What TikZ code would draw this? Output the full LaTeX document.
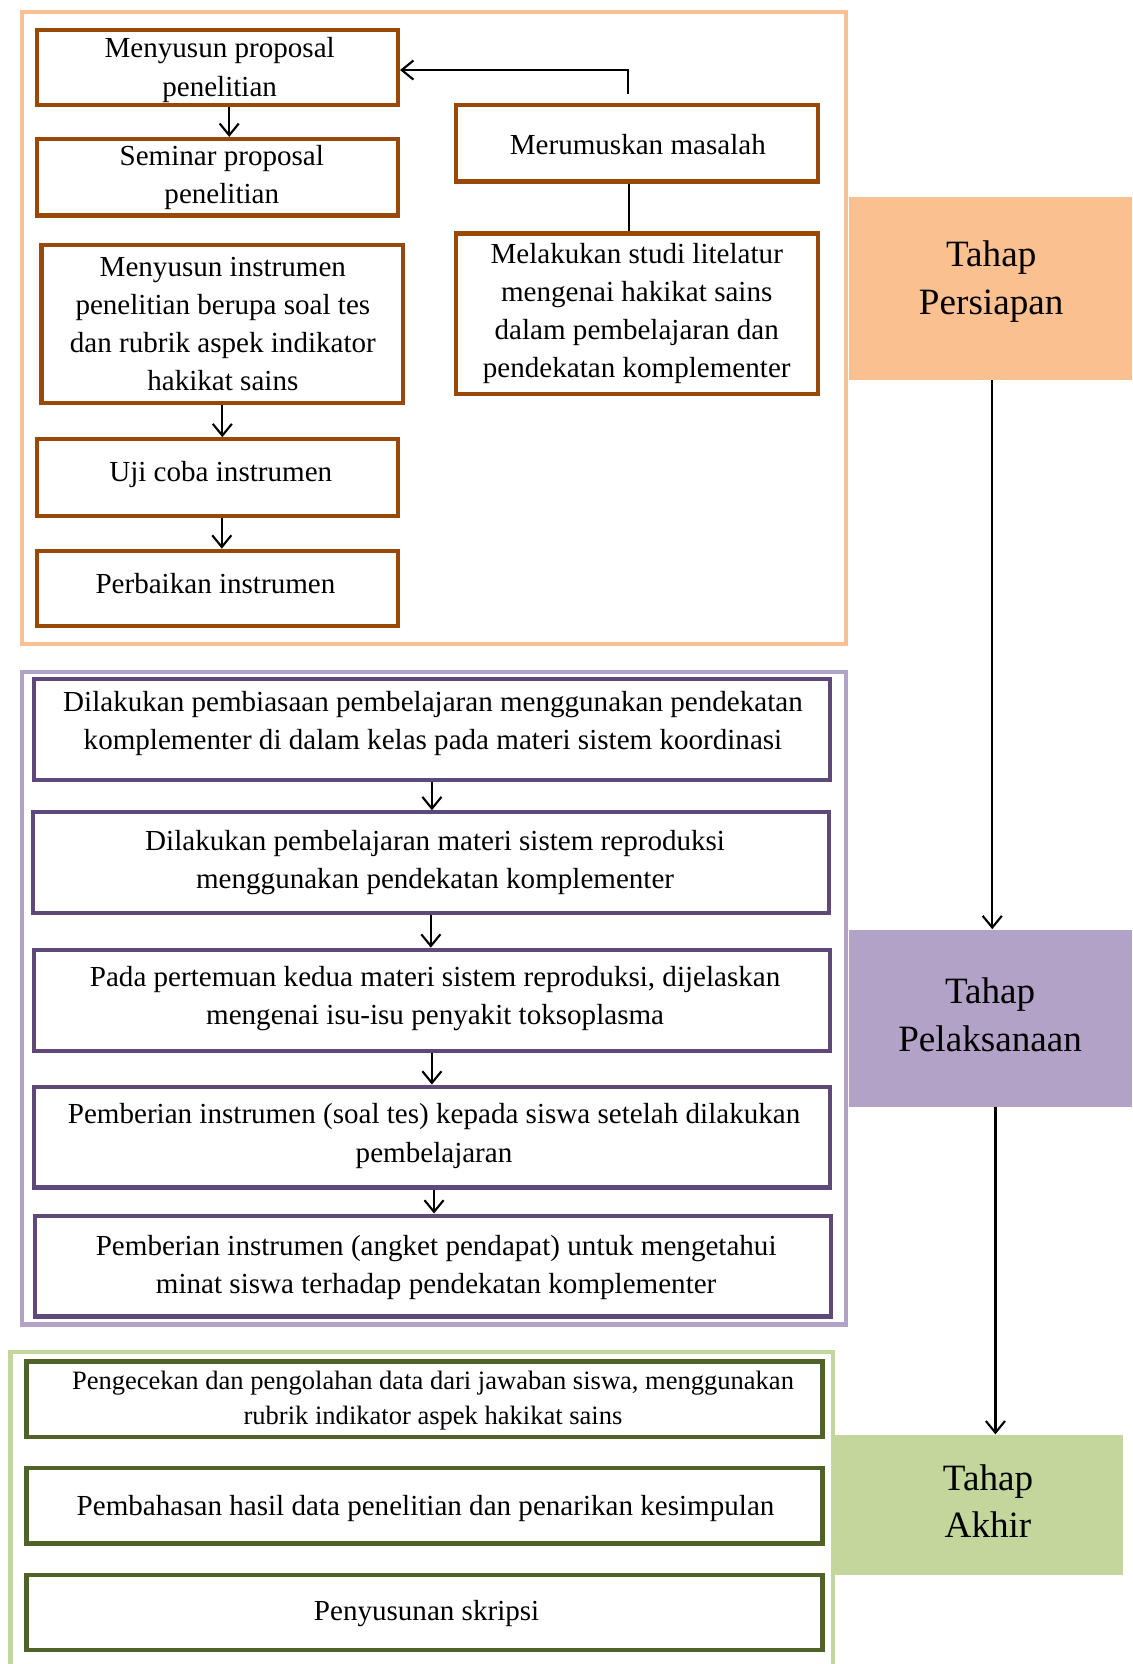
\documentclass[tikz,border=0pt]{standalone}
\usepackage{fontspec}
\setmainfont{Liberation Serif}
\usetikzlibrary{arrows.meta}
\definecolor{orfr}{HTML}{FAC090}
\definecolor{orbx}{HTML}{984807}
\definecolor{pufr}{HTML}{B3A2C7}
\definecolor{pubx}{HTML}{5F497A}
\definecolor{grfr}{HTML}{C3D69B}
\definecolor{grbx}{HTML}{4F6228}
\begin{document}
\begin{tikzpicture}[x=0.5pt,y=-0.5pt,
  frame/.style={line width=2pt},
  bx/.style={draw, line width=2pt, rectangle, inner sep=0pt, fill=white},
  obx/.style={bx, draw=orbx},
  pbx/.style={bx, draw=pubx, minimum width=375pt, minimum height=47.5pt},
  gbx/.style={bx, draw=grbx, minimum width=375pt, minimum height=35.5pt},
  txt/.style={align=center, inner sep=0pt, yshift=-1.5pt, font=\fontsize{13.7}{18}\selectfont},
  stxt/.style={align=center, inner sep=0pt, yshift=-1.5pt, font=\fontsize{12.5}{16.5}\selectfont},
  stage/.style={rectangle, inner sep=0pt},
  stagetxt/.style={align=center, inner sep=0pt, yshift=-1.5pt, font=\fontsize{17.5}{22.5}\selectfont},
  arr/.style={-{Straight Barb[length=5.5pt,width=9pt]}, line width=1pt},
  ln/.style={line width=1pt}]
\path[use as bounding box] (0,0) rectangle (1067,1568);
\clip (0,0) rectangle (1067,1568);

% frames
\draw[frame, orfr] (21,11) rectangle (797,607);
\draw[frame, pufr] (21,633) rectangle (797,1248);
\draw[frame, grfr] (10,1274) rectangle (785,1600);

% stage boxes
\node[stage, fill=orfr, minimum width=133.5pt, minimum height=86pt] (tp) at (933.5,272) {};
\node[stagetxt] (tpt) at (934,262.5) {Tahap\\Persiapan};
\node[stage, fill=pufr, minimum width=133.5pt, minimum height=83.5pt] (tl) at (933.5,959.5) {};
\node[stagetxt] (tlt) at (933,953) {Tahap\\Pelaksanaan};
\node[stage, fill=grfr, minimum width=135.5pt, minimum height=66pt] (ta) at (922.5,1418) {};
\node[stagetxt] (tat) at (931,1411.5) {Tahap\\Akhir};

% preparation boxes
\node[obx, minimum width=170pt, minimum height=35.5pt] (b1) at (205,63.5) {};
\node[txt] (b1t) at (207,63) {Menyusun proposal\\penelitian};
\node[obx, minimum width=170pt, minimum height=36pt] (b2) at (205,167) {};
\node[txt] (b2t) at (209,164) {Seminar proposal\\penelitian};
\node[obx, minimum width=170.5pt, minimum height=74.5pt] (b3) at (209.5,305.5) {};
\node[txt] (b3t) at (210,302.5) {Menyusun instrumen\\penelitian berupa soal tes\\dan rubrik aspek indikator\\hakikat sains};
\node[obx, minimum width=170pt, minimum height=36pt] (b4) at (205,450) {};
\node[txt] (b4t) at (208,444) {Uji coba instrumen};
\node[obx, minimum width=170pt, minimum height=35.5pt] (b5) at (205,554.5) {};
\node[txt] (b5t) at (203,547) {Perbaikan instrumen};
\node[obx, minimum width=170.5pt, minimum height=36pt] (m1) at (600.5,135) {};
\node[txt] (m1t) at (601,133) {Merumuskan masalah};
\node[obx, minimum width=170.5pt, minimum height=75.5pt] (m2) at (600.5,295.5) {};
\node[txt] (m2t) at (600,292.5) {Melakukan studi litelatur\\mengenai hakikat sains\\dalam pembelajaran dan\\pendekatan komplementer};

% implementation boxes
\node[pbx] (p1) at (407,687.5) {};
\node[txt] (p1t) at (408,678.5) {Dilakukan pembiasaan pembelajaran menggunakan pendekatan\\komplementer di dalam kelas pada materi sistem koordinasi};
\node[pbx] (p2) at (406,813) {};
\node[txt] (p2t) at (410,810) {Dilakukan pembelajaran materi sistem reproduksi\\menggunakan pendekatan komplementer};
\node[pbx] (p3) at (407,942.5) {};
\node[txt] (p3t) at (410,938) {Pada pertemuan kedua materi sistem reproduksi, dijelaskan\\mengenai isu-isu penyakit toksoplasma};
\node[pbx] (p4) at (407,1071.5) {};
\node[txt] (p4t) at (409,1067.5) {Pemberian instrumen (soal tes) kepada siswa setelah dilakukan\\pembelajaran};
\node[pbx] (p5) at (408,1193) {};
\node[txt] (p5t) at (411,1191.5) {Pemberian instrumen (angket pendapat) untuk mengetahui\\minat siswa terhadap pendekatan komplementer};

% final boxes
\node[gbx] (g1) at (400,1318.5) {};
\node[stxt] (g1t) at (408,1316.5) {Pengecekan dan pengolahan data dari jawaban siswa, menggunakan\\rubrik indikator aspek hakikat sains};
\node[gbx] (g2) at (400,1419) {};
\node[txt] (g2t) at (401,1418) {Pembahasan hasil data penelitian dan penarikan kesimpulan};
\node[gbx] (g3) at (400,1519.5) {};
\node[txt] (g3t) at (402,1517) {Penyusunan skripsi};

% connectors
\draw[arr] ([xshift=5.5pt]b1.south) -- ([xshift=5.5pt]b2.north);
\draw[arr] (b3.south) -- (b3.south |- b4.north);
\draw[arr] ([xshift=2pt]b4.south) -- ([xshift=2pt]b4.south |- b5.north);
\draw[arr] ([xshift=-4.25pt,yshift=4pt]m1.north) |- ([yshift=-1.25pt]b1.east);
\draw[ln] ([xshift=-3.75pt]m1.south) -- ([xshift=-3.75pt]m2.north);

\draw[arr] (p1.south) -- (p1.south |- p2.north);
\draw[arr] (p2.south) -- (p2.south |- p3.north);
\draw[arr] (p3.south) -- (p3.south |- p4.north);
\draw[arr] ([xshift=1pt]p4.south) -- ([xshift=1pt]p4.south |- p5.north);

\draw[arr] ([xshift=0.75pt]tp.south) -- ([xshift=0.75pt]tl.north);
\draw[arr] ([xshift=2.25pt]tl.south) -- ([xshift=2.25pt]tl.south |- ta.north);
\end{tikzpicture}
\end{document}
